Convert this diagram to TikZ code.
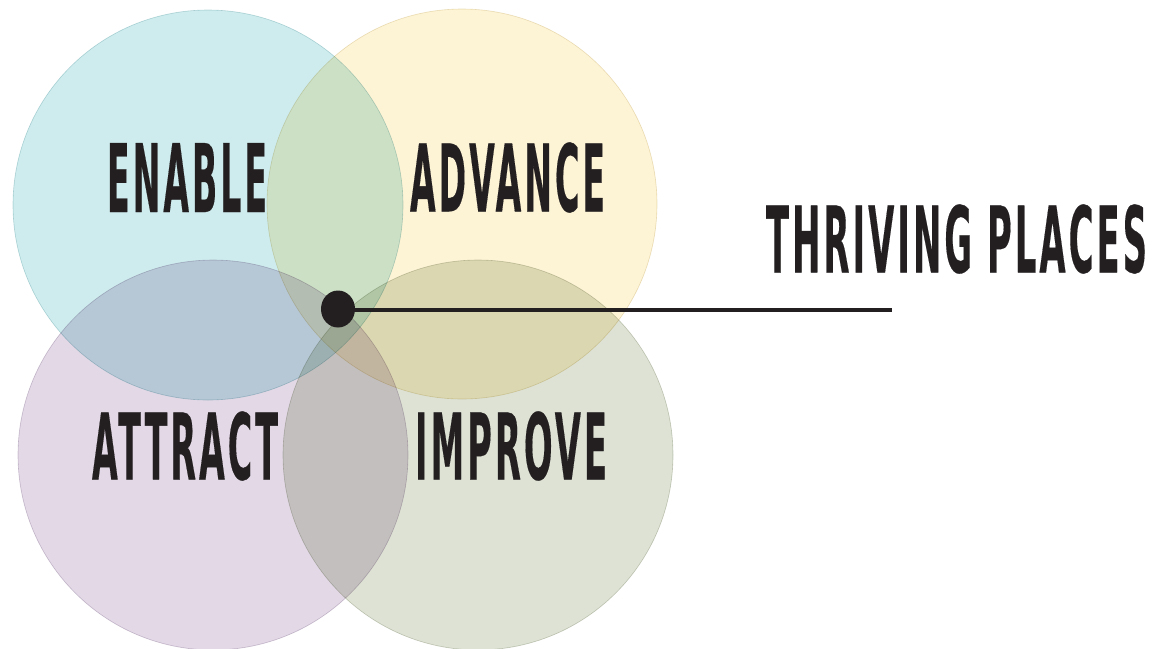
\documentclass[tikz,border=0pt]{standalone}
\usepackage{fontspec}
\usepackage{graphicx}
\usetikzlibrary{shapes.geometric}
\newfontfamily\condfont{DejaVu Sans Bold}[LetterSpace=9,FakeBold=0.4]
\definecolor{cEnable}{RGB}{206,236,238}
\definecolor{cAdvance}{RGB}{253,243,213}
\definecolor{cAttract}{RGB}{226,216,230}
\definecolor{cImprove}{RGB}{221,226,212}
\definecolor{ink}{RGB}{35,31,32}
\tikzset{
  venn/.style={circle, minimum size=390pt, inner sep=0pt, line width=0.6pt},
  word/.style={inner sep=0pt, text=ink},
}
\newcommand{\wordbox}[3]{\resizebox{#1}{#2}{\condfont #3}}
\begin{document}
\begin{tikzpicture}[x=1pt,y=-1pt]
\useasboundingbox (0,0) rectangle (1153,648);
\fill[white] (0,0) rectangle (1153,648);
\begin{scope}[blend group=multiply]
  \node[venn, fill=cEnable, draw=cEnable!93!black] (enable) at (208,205) {};
  \node[venn, fill=cAdvance, draw=cAdvance!93!black] (advance) at (462,204) {};
  \node[venn, fill=cAttract, draw=cAttract!93!black] (attract) at (213,455) {};
  \node[venn, fill=cImprove, draw=cImprove!93!black] (improve) at (478,455) {};
\end{scope}
\node[word] (tenable) at (187,177.5) {\wordbox{160pt}{69pt}{ENABLE}};
\node[word] (tadvance) at (507.5,177.5) {\wordbox{195pt}{69pt}{ADVANCE}};
\node[word] (tattract) at (185,446) {\wordbox{186pt}{68pt}{ATTRACT}};
\node[word] (timprove) at (511,446) {\wordbox{192pt}{68pt}{IMPROVE}};
\node[word] (tthriving) at (956.5,239) {\wordbox{381pt}{68pt}{THRIVING PLACES}};
\node[ellipse, fill=ink, minimum width=34pt, minimum height=37pt, inner sep=0pt] (dot) at (338,309) {};
\coordinate (lineend) at (892,310);
\draw[ink, line width=4pt] (dot.center) ++(0,1) -- (lineend);
\end{tikzpicture}
\end{document}
